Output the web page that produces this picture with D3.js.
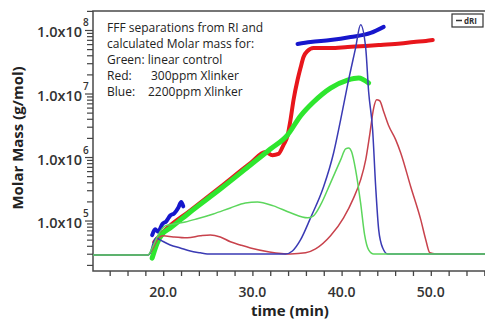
<!DOCTYPE html>
<html><head><meta charset="utf-8">
<script src="https://cdn.jsdelivr.net/npm/d3@7"></script>
<style>html,body{margin:0;padding:0;background:#fff;}svg{display:block;}</style>
</head><body>
<svg id="c" width="485" height="320"></svg>
<script>
// time (min) vs molar mass (g/mol)
const redMw = [[18.99,4.67e4],[20.22,7.21e4],[23.03,1.46e5],[26.40,3.43e5],[29.78,8.18e5],[31.46,1.22e6],[32.25,1.09e6],[32.92,1.14e6],[33.48,1.57e6],[33.93,2.18e6],[34.27,3.90e6],[34.61,8.05e6],[35.06,1.66e7],[35.39,2.56e7],[35.73,3.83e7],[36.18,4.75e7],[36.85,5.30e7],[38.76,5.30e7],[40.67,5.50e7],[42.70,5.70e7],[44.38,5.92e7],[46.63,6.24e7],[48.09,6.59e7],[49.44,6.84e7],[50.22,7.08e7]];
const greenMw = [[18.76,2.61e4],[19.33,4.51e4],[20.00,6.47e4],[20.79,7.76e4],[23.03,1.39e5],[26.40,3.19e5],[29.78,7.62e5],[32.02,1.36e6],[33.93,2.26e6],[35.39,4.51e6],[36.85,7.48e6],[38.76,1.24e7],[40.67,1.66e7],[41.91,1.79e7],[43.03,1.49e7]];
const blueMwEarly = [[18.76,6.0e4],[19.10,7.4e4],[19.44,6.8e4],[19.89,8.9e4],[20.34,9.9e4],[20.79,1.22e5],[21.24,1.32e5],[21.69,1.62e5],[22.02,2.0e5],[22.25,1.70e5]];
const blueMwLate = [[35.06,6.12e7],[36.52,6.59e7],[38.76,7.08e7],[41.01,7.90e7],[43.26,9.15e7],[44.72,1.14e8]];
// dRI signal (arbitrary units)
const blueRI = [[12.13,0],[18.31,0],[18.54,0.9],[18.88,5.2],[19.21,7.4],[19.66,6.5],[20.79,4.3],[21.91,3.0],[23.03,1.7],[24.16,0.9],[24.94,0.4],[29.78,0.4],[33.71,0.4],[34.49,1.7],[35.39,6.5],[36.52,16.1],[37.98,29.6],[39.10,44.3],[39.89,58.7],[40.67,73.9],[41.57,90.0],[42.13,100],[42.70,90.0],[43.03,70.9],[43.48,54.3],[43.82,29.6],[44.16,10.9],[44.61,3.0],[45.17,0.4],[56.3,0.4]];
const redRI = [[12.13,0],[18.31,0],[18.76,2.2],[19.33,6.5],[20.00,8.3],[21.12,7.8],[22.70,7.4],[24.16,8.3],[25.28,8.7],[26.40,7.8],[27.53,5.7],[28.65,4.3],[29.78,3.0],[31.91,1.3],[34.27,0.4],[35.96,0.9],[37.08,2.6],[38.76,8.3],[40.22,16.1],[41.35,24.8],[42.13,32.6],[42.70,41.3],[43.15,52.2],[43.60,63.9],[43.93,67.4],[44.27,67.0],[44.72,62.2],[45.28,56.1],[46.07,50.0],[46.63,44.3],[47.75,29.6],[48.88,15.2],[49.44,6.5],[49.89,0.9],[50.56,0.4],[56.3,0.4]];
const greenRI = [[12.13,0],[18.31,0],[18.76,3.0],[19.44,8.7],[20.22,12.6],[21.35,13.5],[22.47,14.3],[23.82,15.7],[25.62,17.8],[27.53,20.4],[29.21,22.6],[30.56,23.0],[32.36,21.3],[34.27,18.3],[36.18,16.1],[36.85,17.0],[37.64,21.7],[38.76,31.3],[39.89,41.3],[40.45,46.1],[40.79,46.5],[41.12,44.8],[41.57,37.0],[42.13,22.6],[42.58,8.7],[43.03,2.2],[43.60,0.4],[56.3,0.4]];
const xTickValues = [14,16,18,20,22,24,26,28,30,32,34,36,38,40,42,44,46,48,50,52,54,56];
const xLabelValues = [20,30,40,50];
const yLabelExponents = [5,6,7,8];
const noteLines = ["FFF separations from RI and","calculated Molar mass for:","Green: linear control"];
const noteKeyed = [["Red:","300ppm Xlinker"],["Blue:","2200ppm Xlinker"]];

const svg = d3.select("#c");
const L = 93, T = 11, R = 487, B = 271;
const x = d3.scaleLinear().domain([12.13, 56.3]).range([L, R]);
const y = d3.scaleLog().domain([Math.pow(10,4.213), Math.pow(10,8.307)]).range([B, T]);
const yRI = d3.scaleLinear().domain([-7, 106]).range([B, T]);

const fontF = "'Open Sans', 'DejaVu Sans', sans-serif";

// frame
svg.append("rect").attr("x",L).attr("y",T).attr("width",R-L).attr("height",B-T)
  .attr("fill","none").attr("stroke","#4a4a4a").attr("stroke-width",1.5);

svg.append("clipPath").attr("id","pc").append("rect")
  .attr("x",L).attr("y",T).attr("width",R-L).attr("height",B-T);
const g = svg.append("g").attr("clip-path","url(#pc)");

const lineMw = d3.line().x(d=>x(d[0])).y(d=>y(d[1])).curve(d3.curveMonotoneX);
const lineRI = d3.line().x(d=>x(d[0])).y(d=>yRI(d[1])).curve(d3.curveMonotoneX);

// thick molar mass traces
[[redMw,"#e8161c",4],[blueMwEarly,"#1616cc",4],[blueMwLate,"#1616cc",4],[greenMw,"#2ee62e",5]].forEach(([d,c,w])=>{
  g.append("path").datum(d).attr("d",lineMw).attr("fill","none").attr("stroke",c)
   .attr("stroke-width",w).attr("stroke-linejoin","round").attr("stroke-linecap","round");
});
// thin dRI traces
[[redRI,"#c8424c"],[blueRI,"#3a3ab4"],[greenRI,"#5cd65c"]].forEach(([d,c])=>{
  g.append("path").datum(d).attr("d",lineRI).attr("fill","none").attr("stroke",c)
   .attr("stroke-width",1.5).attr("stroke-linejoin","round");
});

// x axis
const xAxis = d3.axisBottom(x).tickValues(xTickValues).tickSize(5).tickFormat("");
const xa = svg.append("g").attr("transform",`translate(0,${B})`).call(xAxis);
xa.select(".domain").remove();
xa.selectAll("line").attr("stroke","#444").attr("stroke-width",1.3);
svg.append("g").selectAll("text").data(xLabelValues).join("text")
  .attr("x",d=>x(d)).attr("y",297).attr("text-anchor","middle")
  .attr("font-family",fontF).attr("font-size",14).attr("font-weight",600).attr("fill","#333")
  .text(d=>d3.format(".1f")(d));

// y axis ticks (log)
const yTicks = [];
for (let e=4; e<=8; e++) for (let m=1; m<=9; m++) { const v=m*Math.pow(10,e); if (v>=y.domain()[0] && v<=y.domain()[1]) yTicks.push(v); }
svg.append("g").selectAll("line").data(yTicks).join("line")
  .attr("x1",d=>L - (Math.abs(Math.log10(d)%1)<1e-9 ? 8 : 6)).attr("x2",L)
  .attr("y1",d=>y(d)).attr("y2",d=>y(d)).attr("stroke","#444").attr("stroke-width",1.2);
const yl = svg.append("g").selectAll("g").data(yLabelExponents).join("g");
yl.append("text").attr("x",82).attr("y",d=>y(Math.pow(10,d))+7).attr("text-anchor","end")
  .attr("font-family",fontF).attr("font-size",14.5).attr("font-weight",600).attr("fill","#333")
  .text("1.0x10");
yl.append("text").attr("x",83).attr("y",d=>y(Math.pow(10,d))-4)
  .attr("font-family",fontF).attr("font-size",10).attr("font-weight",600).attr("fill","#333")
  .text(d=>d);

// axis titles
svg.append("text").attr("transform","translate(23,138) rotate(-90)").attr("text-anchor","middle")
  .attr("font-family",fontF).attr("font-size",15).attr("font-weight",700).attr("fill","#222")
  .text("Molar Mass (g/mol)");
svg.append("text").attr("x",290).attr("y",316).attr("text-anchor","middle")
  .attr("font-family",fontF).attr("font-size",15).attr("font-weight",700).attr("fill","#222")
  .text("time (min)");

// annotation
const nt = svg.append("g").attr("font-family",fontF).attr("font-size",12).attr("fill","#222");
noteLines.forEach((s,i)=>nt.append("text").attr("x",107).attr("y",32+i*16).text(s));
noteKeyed.forEach((p,i)=>{
  nt.append("text").attr("x",107).attr("y",80+i*16).text(p[0]);
  nt.append("text").attr("x",i===0?151:148).attr("y",80+i*16).text(p[1]);
});

// legend
const lg = svg.append("g");
lg.append("rect").attr("x",452).attr("y",14).attr("width",31).attr("height",13)
  .attr("fill","#fff").attr("stroke","#333").attr("stroke-width",1.2);
lg.append("line").attr("x1",456).attr("x2",462).attr("y1",20.5).attr("y2",20.5).attr("stroke","#333").attr("stroke-width",1.5);
lg.append("text").attr("x",464).attr("y",24).attr("font-family",fontF).attr("font-size",8).attr("font-weight",700).attr("fill","#333").text("dRI");
</script>
</body></html>
